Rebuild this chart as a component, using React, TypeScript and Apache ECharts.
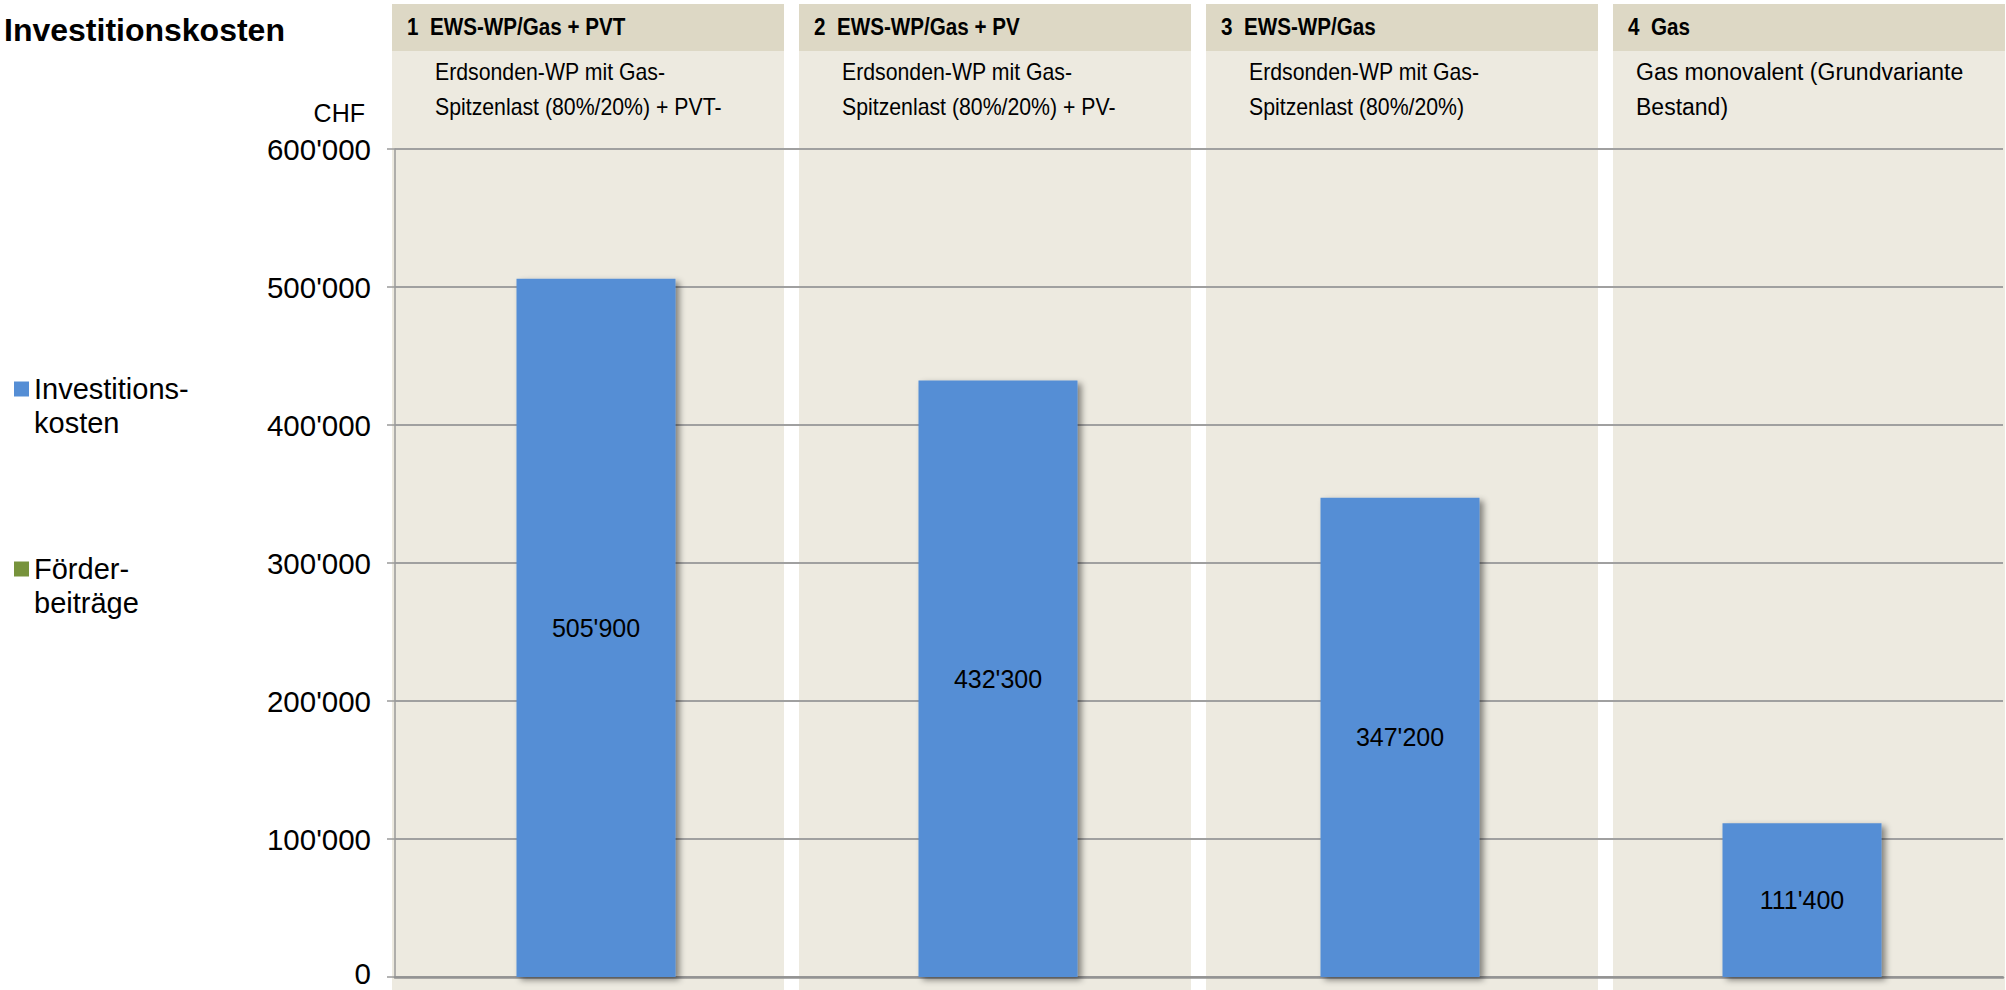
import React, { useEffect, useRef } from 'react';
import * as echarts from 'echarts';

const categories = ['1', '2', '3', '4'];
const headerTitles = ['1  EWS-WP/Gas + PVT', '2  EWS-WP/Gas + PV', '3  EWS-WP/Gas', '4  Gas'];
const headerLines1 = ['Erdsonden-WP mit Gas-', 'Erdsonden-WP mit Gas-', 'Erdsonden-WP mit Gas-', 'Gas monovalent (Grundvariante'];
const headerLines2 = ['Spitzenlast (80%/20%) + PVT-', 'Spitzenlast (80%/20%) + PV-', 'Spitzenlast (80%/20%)', 'Bestand)'];
const investitionskosten = [505900, 432300, 347200, 111400];
const foerderbeitraege: (number | null)[] = [null, null, null, null];
const yMin = 0;
const yMax = 600000;
const yStep = 100000;

const seriesNames = ['Investitions-\nkosten', 'Förder-\nbeiträge'];
const FONT = 'Liberation Sans, Arial, sans-serif';
const subIndent = [43, 43, 43, 23];
const subScaleX = [0.925, 0.925, 0.925, 1];

function fmt(v: number): string {
  return String(Math.round(v)).replace(/\B(?=(\d{3})+(?!\d))/g, "'");
}

export default function App() {
  const ref = useRef<HTMLDivElement>(null);
  useEffect(() => {
    if (!ref.current) return;
    const chart = echarts.init(ref.current, undefined, { renderer: 'svg' });
    const option: any = {
      animation: false,
      backgroundColor: '#ffffff',
      textStyle: { fontFamily: FONT },
      grid: [
        { left: 395, width: 1608, top: 149, bottom: 13, containLabel: false, outerBoundsMode: 'none' },
        { left: 392, width: 1628, top: 149, bottom: 13, containLabel: false, outerBoundsMode: 'none' },
      ],
      legend: {
        orient: 'vertical',
        left: 14,
        top: 338,
        padding: 0,
        itemWidth: 15,
        itemHeight: 15,
        itemGap: 78,
        icon: 'rect',
        selectedMode: false,
        data: seriesNames,
        formatter: (name: string) => '\n' + name,
        textStyle: { fontSize: 29, lineHeight: 34, color: '#000', fontFamily: FONT },
      },
      xAxis: [
        {
          type: 'category',
          gridIndex: 0,
          data: categories,
          axisLine: { show: true, lineStyle: { color: '#939393', width: 2.5 } },
          axisTick: { show: false },
          axisLabel: { show: false },
          splitLine: { show: false },
          z: 3,
        },
        {
          type: 'category',
          gridIndex: 1,
          data: categories,
          show: false,
        },
      ],
      yAxis: [
        {
          type: 'value',
          gridIndex: 0,
          min: yMin,
          max: yMax,
          interval: yStep,
          axisLine: { show: true, lineStyle: { color: '#9a9a9a', width: 1.5 } },
          axisTick: { show: true, length: 8, lineStyle: { color: '#9a9a9a', width: 1.5 } },
          axisLabel: {
            fontSize: 29.5,
            lineHeight: 20,
            color: '#000',
            margin: 24,
            fontFamily: FONT,
            formatter: (v: number) => (v === 0 ? '{z|0}' : fmt(v)),
            rich: {
              z: { fontSize: 29.5, lineHeight: 20, color: '#000', fontFamily: FONT, padding: [0, 0, 8, 0] },
            },
          },
          splitLine: { show: true, lineStyle: { color: '#a0a0a0', width: 2 } },
        },
        {
          type: 'value',
          gridIndex: 1,
          min: yMin,
          max: yMax,
          interval: yStep,
          show: false,
          splitLine: { show: false },
        },
      ],
      graphic: [
        {
          type: 'text',
          x: 4,
          y: 30,
          style: { text: 'Investitionskosten', font: `bold 32px ${FONT}`, fill: '#000', align: 'left', verticalAlign: 'middle' },
        },
        {
          type: 'text',
          x: 365,
          y: 113,
          style: { text: 'CHF', font: `25px ${FONT}`, fill: '#000', align: 'right', verticalAlign: 'middle' },
        },
      ],
      series: [
        {
          type: 'custom',
          xAxisIndex: 1,
          yAxisIndex: 1,
          z: -1,
          silent: true,
          clip: false,
          data: categories.map((_, i) => [i, yMax]),
          renderItem: (params: any, api: any) => {
            const idx = api.value(0);
            const c = api.coord([idx, 0]);
            const band = api.size([1, 0])[0];
            const left = c[0] - band / 2;
            const w = band - 15;
            const H = api.getHeight();
            return {
              type: 'group',
              children: [
                { type: 'rect', shape: { x: left, y: 4, width: w, height: H - 4 }, style: { fill: '#EDEAE0' } },
                { type: 'rect', shape: { x: left, y: 4, width: w, height: 47 }, style: { fill: '#DDD8C5' } },
                {
                  type: 'text',
                  x: left + 15,
                  y: 27,
                  scaleX: 0.86,
                  style: { text: headerTitles[idx], font: `bold 24px ${FONT}`, fill: '#000', align: 'left', verticalAlign: 'middle' },
                },
                {
                  type: 'text',
                  x: left + subIndent[idx],
                  y: 72,
                  scaleX: subScaleX[idx],
                  style: { text: headerLines1[idx], font: `23px ${FONT}`, fill: '#000', align: 'left', verticalAlign: 'middle' },
                },
                {
                  type: 'text',
                  x: left + subIndent[idx],
                  y: 107,
                  scaleX: subScaleX[idx],
                  style: { text: headerLines2[idx], font: `23px ${FONT}`, fill: '#000', align: 'left', verticalAlign: 'middle' },
                },
              ],
            };
          },
        },
        {
          name: seriesNames[0],
          type: 'bar',
          xAxisIndex: 0,
          yAxisIndex: 0,
          stack: 'total',
          barWidth: 159,
          z: 4,
          data: investitionskosten,
          itemStyle: {
            color: '#558ED5',
            shadowColor: 'rgba(0,0,0,0.45)',
            shadowBlur: 6,
            shadowOffsetX: 4,
            shadowOffsetY: 3,
          },
          label: {
            show: true,
            position: 'inside',
            fontSize: 25,
            color: '#000',
            fontFamily: FONT,
            formatter: (p: any) => fmt(p.value),
          },
        },
        {
          name: seriesNames[1],
          type: 'bar',
          xAxisIndex: 0,
          yAxisIndex: 0,
          stack: 'total',
          barWidth: 159,
          z: 4,
          data: foerderbeitraege,
          itemStyle: { color: '#77933C' },
        },
      ],
    };
    chart.setOption(option);
    return () => chart.dispose();
  }, []);
  return <div ref={ref} style={{ position: 'fixed', left: 0, top: 0, width: 2006, height: 990 }} />;
}
